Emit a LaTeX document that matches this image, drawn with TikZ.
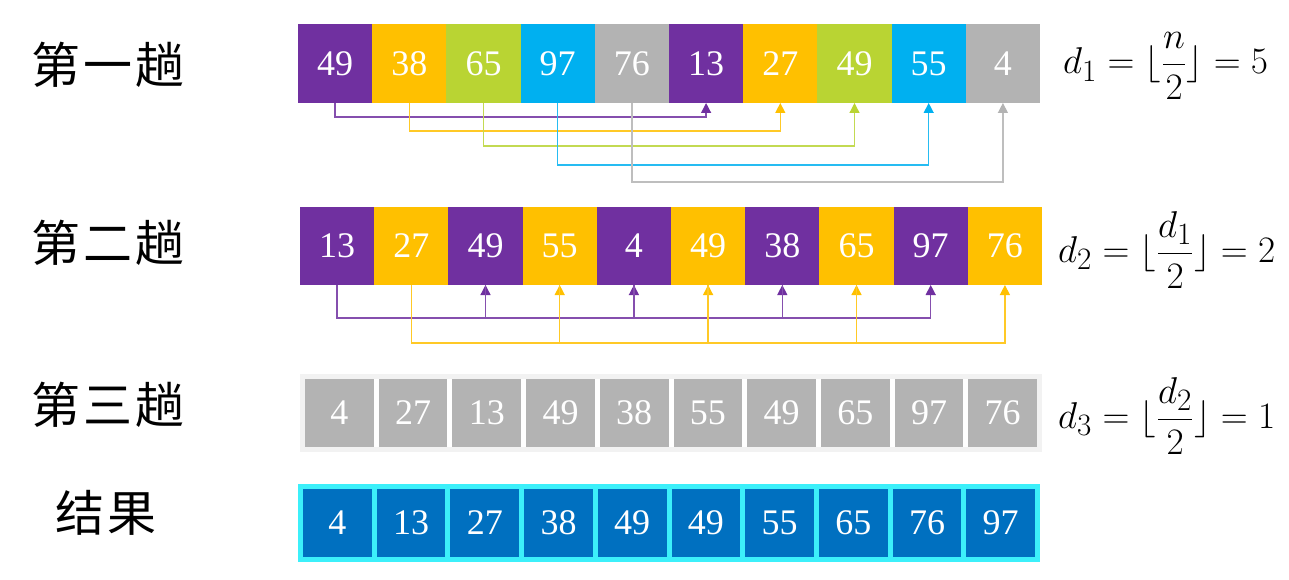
\documentclass[tikz,border=0pt]{standalone}
\usepackage{amsmath}
\usepackage{graphicx}
\usepackage{fontspec}
\setmainfont{Liberation Serif}
\newfontfamily\cjk[LetterSpace=7]{Noto Sans CJK SC}
\usetikzlibrary{arrows.meta}

\definecolor{cpurple}{HTML}{7030A0}
\definecolor{corange}{HTML}{FFC000}
\definecolor{cgreen}{HTML}{B9D433}
\definecolor{cblue}{HTML}{00B0F0}
\definecolor{cgray}{HTML}{B3B3B3}
\definecolor{cdeep}{HTML}{0070C0}
\definecolor{ccyan}{HTML}{3CF0FA}
\definecolor{cpale}{HTML}{F2F2F2}

\newcommand{\bigmath}[1]{\scalebox{1.5}{$#1$}}

\tikzset{
	cell/.style={fill=#1, text=white, inner sep=0pt, outer sep=0pt,
		minimum width=74.2pt, minimum height=79pt, font=\fontsize{36}{40}\selectfont},
	small/.style={cell=#1, minimum width=68.7pt, minimum height=68pt},
	link/.style={line width=1.3pt, draw=#1!85!white,
		-{Triangle[length=10pt,width=10pt,color=#1]}},
	pass/.style={font=\cjk\fontsize{49}{56}\selectfont},
	rule/.style={anchor=west, inner sep=0pt, font=\fontsize{24.88}{30}\selectfont}
}

\begin{document}
\begin{tikzpicture}[x=1pt,y=-1pt]
	\useasboundingbox (0,0) rectangle (1289,580);
	
	% 第一趟
	\node (p1) at (108,65)[pass]{第一趟};
	\node (a0) at (335.1,63.5)[cell=cpurple]{49};
	\node (a1) at (409.3,63.5)[cell=corange]{38};
	\node (a2) at (483.5,63.5)[cell=cgreen]{65};
	\node (a3) at (557.7,63.5)[cell=cblue]{97};
	\node (a4) at (631.9,63.5)[cell=cgray]{76};
	\node (a5) at (706.1,63.5)[cell=cpurple]{13};
	\node (a6) at (780.3,63.5)[cell=corange]{27};
	\node (a7) at (854.5,63.5)[cell=cgreen]{49};
	\node (a8) at (928.7,63.5)[cell=cblue]{55};
	\node (a9) at (1002.9,63.5)[cell=cgray]{4};
	\node (d1) at (1063,66)[rule]{\bigmath{d_1=\lfloor\dfrac{n}{2}\rfloor=5}};
	
	\draw[link=cpurple](a0.south)--++(0,14)-|(a5.south);
	\draw[link=corange](a1.south)--++(0,28)-|(a6.south);
	\draw[link=cgreen](a2.south)--++(0,43)-|(a7.south);
	\draw[link=cblue](a3.south)--++(0,62)-|(a8.south);
	\draw[link=cgray](a4.south)--++(0,79)-|(a9.south);
	
	% 第二趟
	\node (p2) at (108,243)[pass]{第二趟};
	\node (b0) at (337.1,246)[cell=cpurple,minimum height=78pt]{13};
	\node (b1) at (411.3,246)[cell=corange,minimum height=78pt]{27};
	\node (b2) at (485.5,246)[cell=cpurple,minimum height=78pt]{49};
	\node (b3) at (559.7,246)[cell=corange,minimum height=78pt]{55};
	\node (b4) at (633.9,246)[cell=cpurple,minimum height=78pt]{4};
	\node (b5) at (708.1,246)[cell=corange,minimum height=78pt]{49};
	\node (b6) at (782.3,246)[cell=cpurple,minimum height=78pt]{38};
	\node (b7) at (856.5,246)[cell=corange,minimum height=78pt]{65};
	\node (b8) at (930.7,246)[cell=cpurple,minimum height=78pt]{97};
	\node (b9) at (1004.9,246)[cell=corange,minimum height=78pt]{76};
	\node (d2) at (1058,250)[rule]{\bigmath{d_2=\lfloor\dfrac{d_1}{2}\rfloor=2}};
	
	\draw[link=cpurple](b0.south)--++(0,33)-|(b2.south);
	\draw[link=cpurple](b2.south)--++(0,33)-|(b4.south);
	\draw[link=cpurple](b4.south)--++(0,33)-|(b6.south);
	\draw[link=cpurple](b6.south)--++(0,33)-|(b8.south);
	\draw[link=corange](b1.south)--++(0,58)-|(b3.south);
	\draw[link=corange](b3.south)--++(0,58)-|(b5.south);
	\draw[link=corange](b5.south)--++(0,58)-|(b7.south);
	\draw[link=corange](b7.south)--++(0,58)-|(b9.south);
	
	% 第三趟
	\node (p3) at (108,405)[pass]{第三趟};
	\fill[cpale](300,374)rectangle(1042,452);
	\fill[white](305,379)rectangle(1037,447);
	\node (c0) at (339.4,413)[small=cgray]{4};
	\node (c1) at (413.1,413)[small=cgray]{27};
	\node (c2) at (486.8,413)[small=cgray]{13};
	\node (c3) at (560.5,413)[small=cgray]{49};
	\node (c4) at (634.2,413)[small=cgray]{38};
	\node (c5) at (707.9,413)[small=cgray]{55};
	\node (c6) at (781.6,413)[small=cgray]{49};
	\node (c7) at (855.3,413)[small=cgray]{65};
	\node (c8) at (929.0,413)[small=cgray]{97};
	\node (c9) at (1002.7,413)[small=cgray]{76};
	\node (d3) at (1058,416)[rule]{\bigmath{d_3=\lfloor\dfrac{d_2}{2}\rfloor=1}};
	
	% 结果
	\node (p4) at (106,513)[pass]{结果};
	\fill[ccyan](298,484)rectangle(1040,562);
	\node (r0) at (337.4,523)[small=cdeep]{4};
	\node (r1) at (411.1,523)[small=cdeep]{13};
	\node (r2) at (484.8,523)[small=cdeep]{27};
	\node (r3) at (558.5,523)[small=cdeep]{38};
	\node (r4) at (632.2,523)[small=cdeep]{49};
	\node (r5) at (705.9,523)[small=cdeep]{49};
	\node (r6) at (779.6,523)[small=cdeep]{55};
	\node (r7) at (853.3,523)[small=cdeep]{65};
	\node (r8) at (927.0,523)[small=cdeep]{76};
	\node (r9) at (1000.7,523)[small=cdeep]{97};
\end{tikzpicture}
\end{document}
